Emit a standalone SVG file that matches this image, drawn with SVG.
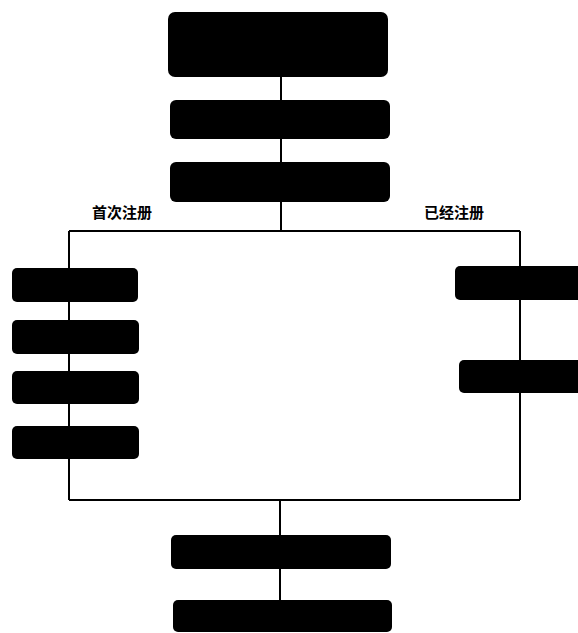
<svg xmlns="http://www.w3.org/2000/svg" width="578" height="633" viewBox="0 0 578 633">
<style>
.box{fill:#000;stroke:none}
.ln{stroke:#000;stroke-width:2;fill:none}
.lbl{font-family:"Noto Sans CJK SC","Noto Sans CJK JP",sans-serif;font-size:15px;font-weight:bold;fill:#000;text-anchor:middle}
</style>
<rect width="578" height="633" fill="#fff"/>
<g id="connectors">
<line class="ln" x1="281" y1="76" x2="281" y2="231"/>
<polyline class="ln" points="69,231 520,231"/>
<line class="ln" x1="69" y1="231" x2="69" y2="500"/>
<line class="ln" x1="520" y1="231" x2="520" y2="500"/>
<line class="ln" x1="69" y1="500" x2="520" y2="500"/>
<line class="ln" x1="280" y1="500" x2="280" y2="602"/>
</g>
<g id="n1"><rect class="box" x="168" y="12" width="220" height="65" rx="7"/></g>
<g id="n2"><rect class="box" x="170" y="100" width="220" height="39" rx="6"/></g>
<g id="n3"><rect class="box" x="170" y="162" width="220" height="40" rx="6"/></g>
<g id="label-first"><text class="lbl" x="122" y="218">首次注册</text></g>
<g id="label-registered"><text class="lbl" x="454" y="218">已经注册</text></g>
<g id="l1"><rect class="box" x="12" y="268" width="126" height="34" rx="5"/></g>
<g id="l2"><rect class="box" x="12" y="320" width="127" height="34" rx="5"/></g>
<g id="l3"><rect class="box" x="12" y="371" width="127" height="33" rx="5"/></g>
<g id="l4"><rect class="box" x="12" y="426" width="127" height="33" rx="5"/></g>
<g id="r1"><rect class="box" x="455" y="266" width="130" height="34" rx="5"/></g>
<g id="r2"><rect class="box" x="459" y="360" width="126" height="33" rx="5"/></g>
<g id="b1"><rect class="box" x="171" y="535" width="220" height="34" rx="5"/></g>
<g id="b2"><rect class="box" x="173" y="600" width="219" height="32" rx="5"/></g>
</svg>
